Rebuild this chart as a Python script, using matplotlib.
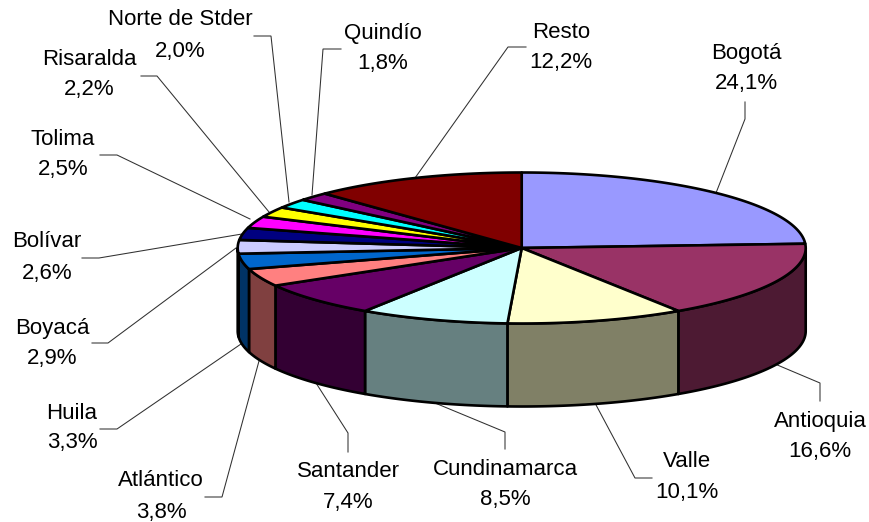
import numpy as np
import matplotlib
matplotlib.use("Agg")
import matplotlib.pyplot as plt

# --- data ---
regions = ["Bogotá", "Antioquia", "Valle", "Cundinamarca", "Santander", "Atlántico", "Huila",
           "Boyacá", "Bolívar", "Tolima", "Risaralda", "Norte de Stder", "Quindío", "Resto"]
shares = [24.1, 16.6, 10.1, 8.5, 7.4, 3.8, 3.3, 2.9, 2.6, 2.5, 2.2, 2.0, 1.8, 12.2]

# --- style ---
top_colors = ["#9999FF", "#993366", "#FFFFCC", "#CCFFFF", "#660066", "#FF8080", "#0066CC",
              "#CCCCFF", "#000080", "#FF00FF", "#FFFF00", "#00FFFF", "#800080", "#800000"]

# --- layout (pixels) ---
CX, CY, RX, RY, DEPTH = 521.7, 248.0, 284.0, 75.5, 83.0
TEXT_DY = 1.5
label_xy = {
    "Bogotá": (746, 52, 82), "Antioquia": (820, 420, 450), "Valle": (687, 460, 491),
    "Cundinamarca": (505, 468, 498), "Santander": (348, 470, 501), "Atlántico": (161, 479, 511),
    "Huila": (72, 412, 441), "Boyacá": (52, 327, 357), "Bolívar": (47, 240, 272),
    "Tolima": (63, 138, 168), "Risaralda": (89, 58, 88), "Norte de Stder": (180, 18, 50),
    "Quindío": (383, 32, 62), "Resto": (561, 31, 61),
}
leaders = {
    "Bogotá": [(745, 102), (745, 119), (716, 193)],
    "Antioquia": [(775, 364), (820, 383), (820, 401)],
    "Valle": [(595, 403), (635, 478), (652, 478)],
    "Cundinamarca": [(435, 403), (505, 432), (505, 449)],
    "Santander": [(316, 383), (348, 433), (348, 452)],
    "Atlántico": [(259, 361), (222, 497), (205, 497)],
    "Huila": [(241, 344), (117, 429), (100, 429)],
    "Boyacá": [(236, 248), (108, 343), (92, 343)],
    "Bolívar": [(242, 234), (99, 258), (82, 258)],
    "Tolima": [(250, 219), (117, 155), (100, 155)],
    "Risaralda": [(269, 212), (157, 76), (141, 76)],
    "Norte de Stder": [(289, 202), (271, 36), (254, 36)],
    "Quindío": [(312, 195), (323, 49), (341, 49)],
    "Resto": [(415, 178), (508, 47), (526, 47)],
}

plt.rcParams["font.family"] = ["Liberation Sans", "DejaVu Sans"]
fig = plt.figure(figsize=(8.7, 5.22), dpi=100)
ax = fig.add_axes([0, 0, 1, 1])
ax.set_xlim(0, 870)
ax.set_ylim(522, 0)
ax.axis("off")


def rim(a0, a1, n=120):
    t = np.radians(np.linspace(a0, a1, n))
    return CX + RX * np.sin(t), CY - RY * np.cos(t)


edges = np.concatenate([[0], np.cumsum(shares)]) / np.sum(shares) * 360
EDGE = dict(edgecolor="black", linewidth=1.9, joinstyle="round")

# side walls: only the front half of the rim (90..270 degrees clockwise from top)
for i, col in enumerate(top_colors):
    a0, a1 = max(edges[i], 90), min(edges[i + 1], 270)
    if a1 <= a0:
        continue
    x, y = rim(a0, a1)
    rgb = np.array(matplotlib.colors.to_rgb(col)) * 0.5
    ax.fill(np.r_[x, x[::-1]], np.r_[y, y[::-1] + DEPTH], facecolor=rgb, zorder=2, **EDGE)

# top slices
for i, col in enumerate(top_colors):
    x, y = rim(edges[i], edges[i + 1])
    ax.fill(np.r_[CX, x], np.r_[CY, y], facecolor=col, zorder=3, **EDGE)

# leader lines and labels
for name, share in zip(regions, shares):
    pts = np.array(leaders[name])
    ax.plot(pts[:, 0], pts[:, 1], color="#303030", lw=0.75, zorder=1, solid_joinstyle="miter")
    lx, y1, y2 = label_xy[name]
    ax.text(lx, y1 + TEXT_DY, name, ha="center", va="center", fontsize=16, color="black", zorder=5)
    ax.text(lx, y2 + TEXT_DY, f"{share:.1f}%".replace(".", ","), ha="center", va="center",
            fontsize=16, color="black", zorder=5)

fig.savefig("out.png", dpi=100, facecolor="white")
